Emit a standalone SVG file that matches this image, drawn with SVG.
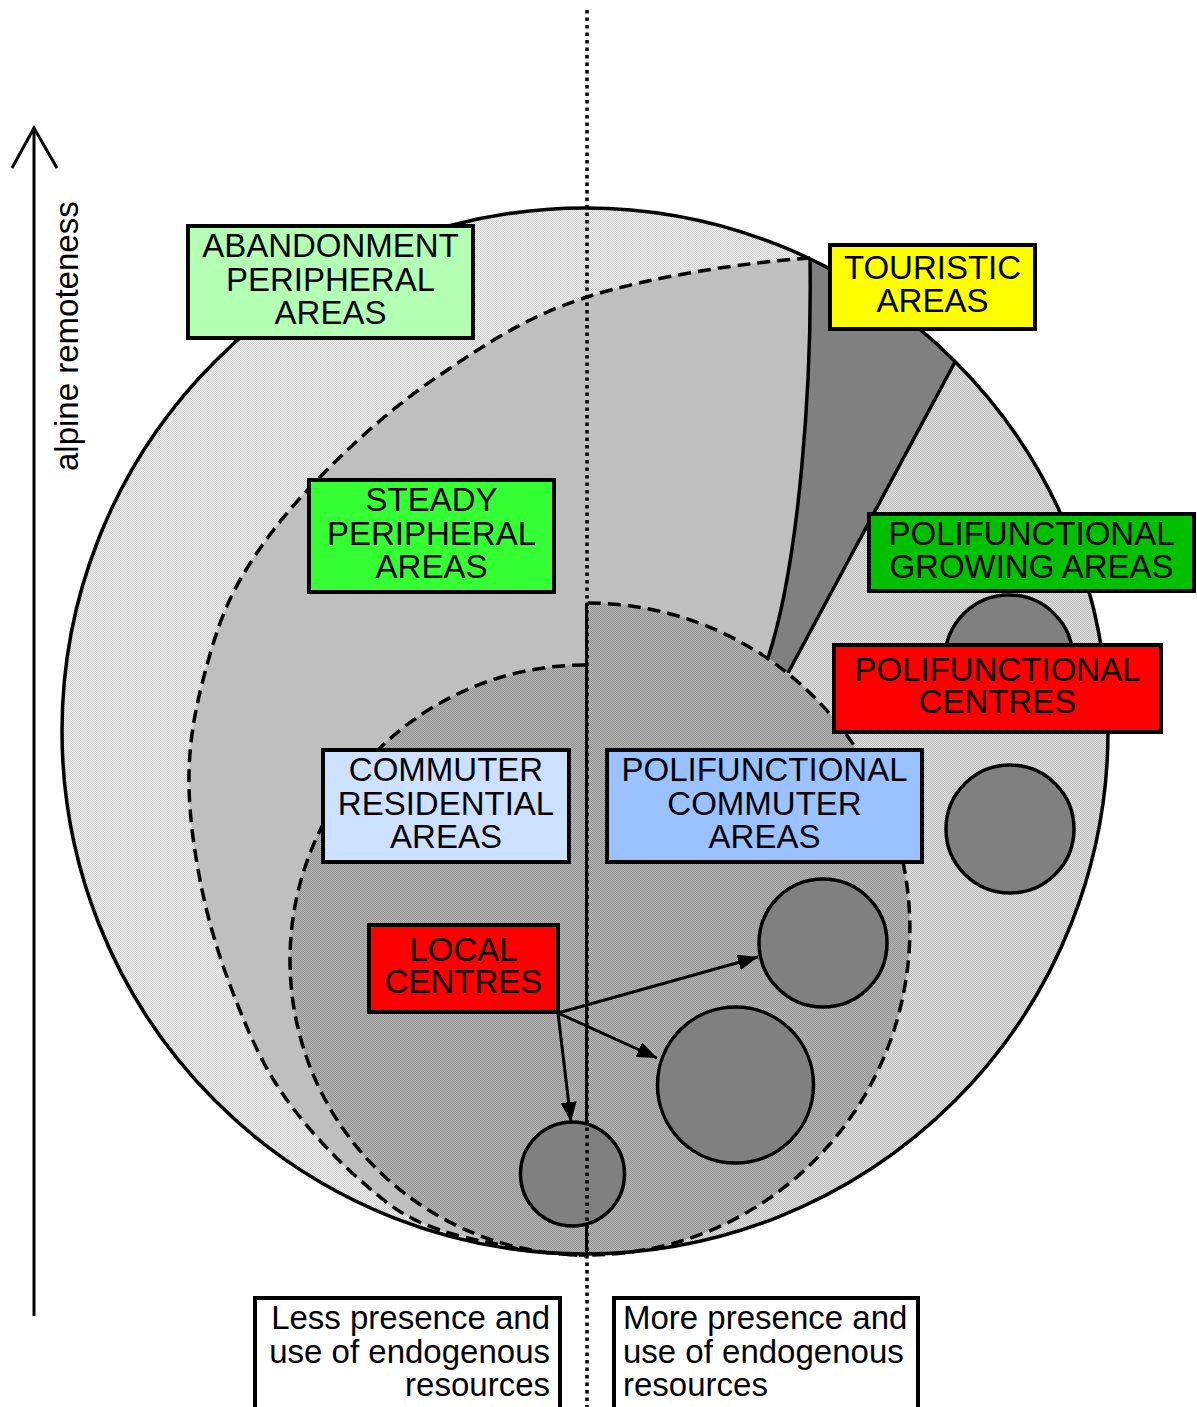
<svg xmlns="http://www.w3.org/2000/svg" width="1197" height="1407" viewBox="0 0 1197 1407">
  <defs>
    <style>
      .lbl { font-family: "Liberation Sans", Arial, Helvetica, sans-serif; font-size: 33px; fill: #000; text-anchor: middle; }
      .note { font-family: "Liberation Sans", Arial, Helvetica, sans-serif; font-size: 33px; fill: #000; }
      .box { stroke: #000; stroke-width: 4; }
      .edge { fill: none; stroke: #000; stroke-width: 3.5; }
      .dash { fill: none; stroke: #000; stroke-width: 3.5; stroke-dasharray: 13 7; }
      .centre { fill: #808080; stroke: #000; stroke-width: 3.5; }
      .link { fill: none; stroke: #000; stroke-width: 3; }
    </style>
    <!-- fine dither textures for the shaded zones -->
    <pattern id="ditherLight" width="2" height="2" patternUnits="userSpaceOnUse">
      <rect width="2" height="2" fill="#f0f0f0"/>
      <rect width="1" height="1" fill="#d0d0d0"/>
      <rect x="1" y="1" width="1" height="1" fill="#d0d0d0"/>
    </pattern>
    <pattern id="ditherMid" width="2" height="2" patternUnits="userSpaceOnUse">
      <rect width="2" height="2" fill="#e0e0e0"/>
      <rect width="1" height="1" fill="#bcbcbc"/>
      <rect x="1" y="1" width="1" height="1" fill="#bcbcbc"/>
    </pattern>
    <pattern id="ditherDark" width="2" height="2" patternUnits="userSpaceOnUse">
      <rect width="2" height="2" fill="#b2b2b2"/>
      <rect width="1" height="1" fill="#969696"/>
      <rect x="1" y="1" width="1" height="1" fill="#969696"/>
    </pattern>
    <marker id="head" viewBox="0 0 20 16" refX="20" refY="8" markerWidth="20" markerHeight="16" markerUnits="userSpaceOnUse" orient="auto">
      <path d="M0,0 L20,8 L0,16 Z" fill="#000"/>
    </marker>
  </defs>

  <rect width="1197" height="1407" fill="#ffffff"/>

  <!-- zones of the territory disc -->
  <g id="zones">
    <circle cx="585" cy="731" r="523" fill="url(#ditherLight)"/>
    <!-- right-hand growing zone -->
    <path d="M955,362 A523,523 0 0 1 585,1254 L588,1000 L788,673 Z" fill="url(#ditherMid)"/>
    <!-- steady peripheral zone -->
    <path d="M810,258 C740,263 649,277 587,297 C525,317 482,346.5 437,377 C392,407.5 350,446 317,480 C284,514 259,547 240,580 C221,613 211.5,647.5 203,680 C194.5,712.5 189.5,741.7 189,775 C188.5,808.3 193.2,845 200,880 C206.8,915 216.7,950 230,985 C243.3,1020 258.3,1057.5 280,1090 C301.7,1122.5 333.3,1156.7 360,1180 C386.7,1203.3 402.5,1217.3 440,1230 C477.5,1242.7 536.7,1251.7 585,1256 L590,900 L768,658 C800,560 812,380 810,258 Z" fill="#bfbfbf"/>
    <!-- touristic wedge -->
    <path d="M810,258 A523,523 0 0 1 955,362 L788,673 L768,658 C800,560 812,380 810,258 Z" fill="#808080"/>
    <path class="edge" d="M810,258 C812,380 800,560 768,658"/>
    <path class="edge" d="M955,362 L788,673"/>
    <path class="dash" d="M810,258 C740,263 649,277 587,297 C525,317 482,346.5 437,377 C392,407.5 350,446 317,480 C284,514 259,547 240,580 C221,613 211.5,647.5 203,680 C194.5,712.5 189.5,741.7 189,775 C188.5,808.3 193.2,845 200,880 C206.8,915 216.7,950 230,985 C243.3,1020 258.3,1057.5 280,1090 C301.7,1122.5 333.3,1156.7 360,1180 C386.7,1203.3 402.5,1217.3 440,1230 C477.5,1242.7 536.7,1251.7 585,1256"/>
    <!-- commuter zones, left and right halves -->
    <path d="M585,665 A295,295 0 0 0 585,1255 Z" fill="url(#ditherDark)"/>
    <path d="M588,603 A322,326 0 0 1 588,1255 Z" fill="url(#ditherDark)"/>
    <path class="dash" d="M585,665 A295,295 0 0 0 585,1255"/>
    <path class="dash" d="M588,603 A322,326 0 0 1 588,1255"/>
    <line x1="586.5" y1="603" x2="586.5" y2="1255" stroke="#000" stroke-width="3"/>
    <circle cx="585" cy="731" r="523" class="edge"/>
  </g>

  <!-- settlements -->
  <g id="centres">
    <circle class="centre" cx="1009" cy="659" r="64"/>
    <circle class="centre" cx="1010" cy="829" r="64"/>
    <circle class="centre" cx="823" cy="943" r="64"/>
    <circle class="centre" cx="735.5" cy="1085" r="78"/>
    <circle class="centre" cx="572.5" cy="1174" r="52"/>
  </g>

  <!-- dividing axis -->
  <line x1="587" y1="10" x2="587" y2="1407" stroke="#000" stroke-width="3.5" stroke-dasharray="3.5 4"/>

  <g id="node-abandonment">
    <rect class="box" x="188" y="226" width="285" height="112" fill="#b3ffb3"/>
    <text class="lbl" x="330.5" y="257">ABANDONMENT</text>
    <text class="lbl" x="330.5" y="291">PERIPHERAL</text>
    <text class="lbl" x="330.5" y="324">AREAS</text>
  </g>
  <g id="node-touristic">
    <rect class="box" x="830" y="245" width="205" height="84" fill="#ffff00"/>
    <text class="lbl" x="932.5" y="279">TOURISTIC</text>
    <text class="lbl" x="932.5" y="312">AREAS</text>
  </g>
  <g id="node-steady">
    <rect class="box" x="309" y="480" width="245" height="112" fill="#33ff33"/>
    <text class="lbl" x="431.5" y="511">STEADY</text>
    <text class="lbl" x="431.5" y="545">PERIPHERAL</text>
    <text class="lbl" x="431.5" y="578">AREAS</text>
  </g>
  <g id="node-growing">
    <rect class="box" x="869" y="514" width="325" height="77" fill="#00c000"/>
    <text class="lbl" x="1031.5" y="545">POLIFUNCTIONAL</text>
    <text class="lbl" x="1031.5" y="578">GROWING AREAS</text>
  </g>
  <g id="node-polifunctional-centres">
    <rect class="box" x="834" y="645" width="327" height="87" fill="#ff0000"/>
    <text class="lbl" x="997.5" y="681">POLIFUNCTIONAL</text>
    <text class="lbl" x="997.5" y="713">CENTRES</text>
  </g>
  <g id="node-commuter-residential">
    <rect class="box" x="323" y="750" width="246" height="112" fill="#cce0ff"/>
    <text class="lbl" x="446" y="781">COMMUTER</text>
    <text class="lbl" x="446" y="815">RESIDENTIAL</text>
    <text class="lbl" x="446" y="848">AREAS</text>
  </g>
  <g id="node-polifunctional-commuter">
    <rect class="box" x="607" y="750" width="315" height="112" fill="#99c2ff"/>
    <text class="lbl" x="764.5" y="781">POLIFUNCTIONAL</text>
    <text class="lbl" x="764.5" y="815">COMMUTER</text>
    <text class="lbl" x="764.5" y="848">AREAS</text>
  </g>
  <g id="node-local-centres">
    <rect class="box" x="369" y="925" width="189" height="87" fill="#ff0000"/>
    <text class="lbl" x="463.5" y="961">LOCAL</text>
    <text class="lbl" x="463.5" y="993">CENTRES</text>
  </g>

  <g id="connectors">
    <line class="link" x1="558" y1="1013" x2="758" y2="957" marker-end="url(#head)"/>
    <line class="link" x1="558" y1="1013" x2="657" y2="1058" marker-end="url(#head)"/>
    <line class="link" x1="558" y1="1013" x2="571" y2="1122" marker-end="url(#head)"/>
  </g>

  <!-- vertical axis -->
  <g id="axis">
    <line x1="34" y1="1316" x2="34" y2="128" stroke="#000" stroke-width="3"/>
    <polyline points="12,168 34,128 57,168" fill="none" stroke="#000" stroke-width="3"/>
    <text class="note" transform="translate(78,471) rotate(-90)">alpine remoteness</text>
  </g>

  <g id="node-less">
    <rect class="box" x="255" y="1298" width="305" height="130" fill="#ffffff"/>
    <text class="note" x="550" y="1329" text-anchor="end">Less presence and</text>
    <text class="note" x="550" y="1363" text-anchor="end">use of endogenous</text>
    <text class="note" x="550" y="1396" text-anchor="end">resources</text>
  </g>
  <g id="node-more">
    <rect class="box" x="614" y="1298" width="304" height="130" fill="#ffffff"/>
    <text class="note" x="623" y="1329">More presence and</text>
    <text class="note" x="623" y="1363">use of endogenous</text>
    <text class="note" x="623" y="1396">resources</text>
  </g>
</svg>
